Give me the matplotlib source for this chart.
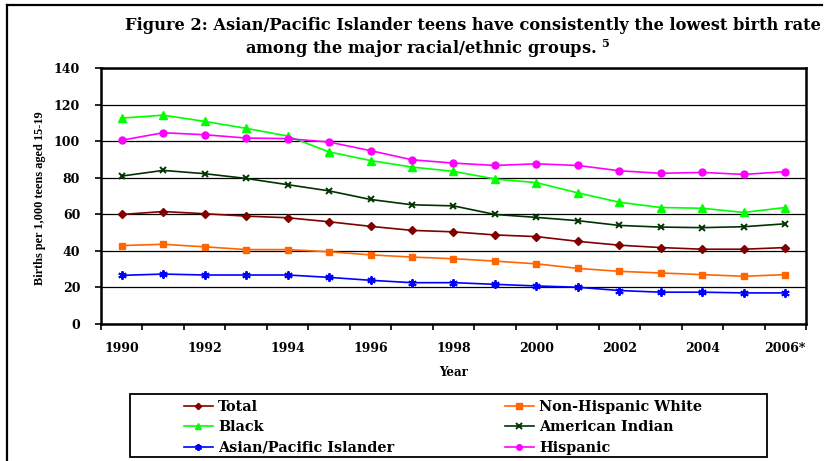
import matplotlib
matplotlib.use("Agg")
import matplotlib.pyplot as plt
from matplotlib.lines import Line2D
from matplotlib.patches import Rectangle

# ---- data: births per 1,000 teens aged 15-19 ----
years = ["1990", "1991", "1992", "1993", "1994", "1995", "1996", "1997", "1998",
         "1999", "2000", "2001", "2002", "2003", "2004", "2005", "2006*"]
tick_labels = ["1990", "1992", "1994", "1996", "1998", "2000", "2002", "2004", "2006*"]

total = [59.9, 61.5, 60.3, 59.0, 58.1, 55.9, 53.4, 51.2, 50.4, 48.7, 47.8, 45.2, 43.1, 41.8, 40.9, 40.9, 41.8]
nh_white = [42.9, 43.6, 42.2, 40.7, 40.7, 39.5, 37.8, 36.6, 35.7, 34.4, 32.9, 30.4, 28.8, 27.9, 27.0, 26.1, 27.0]
black = [112.6, 114.2, 110.8, 107.0, 102.8, 94.1, 89.4, 85.8, 83.5, 79.3, 77.3, 71.7, 66.6, 63.7, 63.3, 61.0, 63.7]
am_indian = [80.9, 84.0, 82.2, 79.6, 76.2, 72.8, 68.1, 65.2, 64.6, 59.9, 58.3, 56.5, 53.9, 53.0, 52.7, 53.2, 54.8]
asian_pi = [26.6, 27.3, 26.8, 26.8, 26.8, 25.5, 23.9, 22.6, 22.6, 21.7, 20.8, 20.1, 18.3, 17.4, 17.4, 17.0, 17.0]
hispanic = [100.5, 104.6, 103.5, 101.7, 101.4, 99.5, 94.8, 89.8, 88.0, 86.7, 87.6, 86.7, 83.8, 82.4, 82.9, 81.8, 83.3]

series_names = ["Total", "Non-Hispanic White", "Black", "American Indian",
                "Asian/Pacific Islander", "Hispanic"]

plt.rcParams["font.family"] = ["DejaVu Serif"]
plt.rcParams["font.weight"] = "bold"
plt.rcParams["mathtext.fontset"] = "dejavuserif"

W, H = 828, 461
fig = plt.figure(figsize=(W / 100, H / 100), dpi=100)

# outer frame (left and top edges)
fig.add_artist(Line2D([7 / W, 7 / W], [0, 1 - 5 / H], color="black", lw=1.6,
                      transform=fig.transFigure))
fig.add_artist(Line2D([7 / W, 822 / W], [1 - 5 / H, 1 - 5 / H], color="black", lw=1.6,
                      transform=fig.transFigure))

left, right, top, bottom = 101, 806, 68, 324
ax = fig.add_axes([left / W, 1 - bottom / H, (right - left) / W, (bottom - top) / H])

x = list(range(len(years)))
styles = [
    (total, "#800000", "D", 4.0, {}),
    (nh_white, "#FF6600", "s", 4.8, {}),
    (black, "#00FF00", "^", 5.8, {}),
    (am_indian, "#003300", "x", 4.8, {"markeredgewidth": 1.4}),
    (asian_pi, "#0000FF", (6, 2, 0), 6.0, {"markeredgewidth": 1.4}),
    (hispanic, "#FF00FF", "o", 5.0, {}),
]
handles = []
for (vals, col, mk, ms, extra), name in zip(styles, series_names):
    ln, = ax.plot(x, vals, color=col, lw=1.2, marker=mk, markersize=ms,
                  markerfacecolor=col, markeredgecolor=col, label=name, zorder=3, **extra)
    handles.append(ln)

ax.set_xlim(-0.5, len(years) - 0.5)
ax.set_ylim(0, 140)
ax.set_yticks(range(0, 141, 20))
ax.yaxis.grid(True, color="black", lw=0.9)
ax.set_axisbelow(True)
for s in ax.spines.values():
    s.set_linewidth(1.8)

# tick marks on category boundaries, labels on every second year
ax.set_xticks([i - 0.5 for i in range(len(years) + 1)])
ax.set_xticklabels([])
ax.set_xticks(list(range(0, len(years), 2)), minor=True)
ax.set_xticklabels(tick_labels, minor=True, fontsize=9, fontweight="bold")
ax.tick_params(axis="x", which="major", direction="out", length=4, width=1.2)
ax.tick_params(axis="x", which="minor", length=0, pad=13)
ax.tick_params(axis="y", direction="out", length=4, width=1.2, pad=11, labelsize=9)

ax.set_xlabel("Year", fontsize=8.5, fontweight="bold", labelpad=8)
fig.text(40 / W, 1 - 198 / H, "Births per 1,000 teens aged 15-19", rotation=90,
         fontsize=8.8, fontweight="bold", family="Liberation Serif",
         ha="center", va="center")

# title
fig.text(125 / W, 1 - 25 / H,
         "Figure 2: Asian/Pacific Islander teens have consistently the lowest birth rate",
         fontsize=11.7, fontweight="bold", ha="left", va="center")
fig.text(245 / W, 1 - 49 / H, r"among the major racial/ethnic groups. $^{\mathbf{5}}$",
         fontsize=11.7, fontweight="bold", ha="left", va="center")

# legend box and two legend columns
fig.add_artist(Rectangle((130 / W, 1 - 457 / H), (767 - 130) / W, (457 - 394) / H,
                         transform=fig.transFigure, fill=False, ec="black", lw=1.3))
leg_kw = dict(frameon=False, loc="upper left", borderpad=0, borderaxespad=0,
              handlelength=2.0, handletextpad=0.35, labelspacing=0.44,
              prop={"size": 10.4, "weight": "bold"})
col1 = [handles[0], handles[2], handles[4]]
col2 = [handles[1], handles[3], handles[5]]
fig.legend(col1, [h.get_label() for h in col1], bbox_to_anchor=(184 / W, 1 - 400 / H),
           markerscale=0.8, **leg_kw)
fig.legend(col2, [h.get_label() for h in col2], bbox_to_anchor=(505 / W, 1 - 400 / H),
           markerscale=0.8, **leg_kw)

fig.savefig("out.png", dpi=100)
